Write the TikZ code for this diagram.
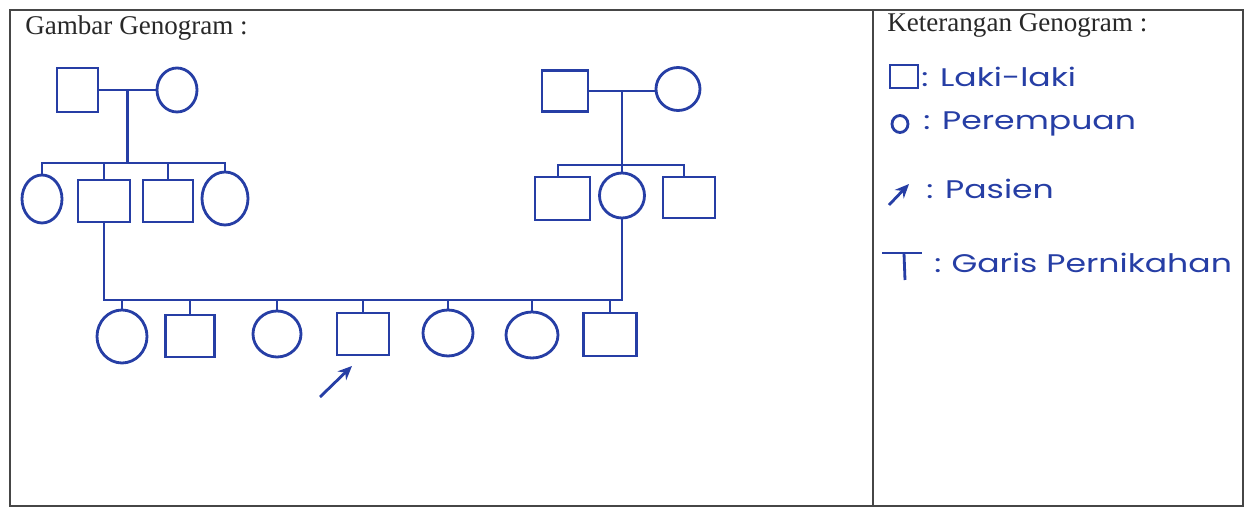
\documentclass[tikz,border=0pt]{standalone}
\usepackage{fontspec}
\setmainfont{Liberation Serif}
\newfontfamily\hand[FakeStretch=1.3]{Poppins}
\usetikzlibrary{shapes.geometric,arrows.meta,calc}
\definecolor{ink}{RGB}{38,62,165}
\definecolor{framegray}{RGB}{70,70,70}
\definecolor{titletext}{RGB}{40,40,40}
\begin{document}
\begin{tikzpicture}[x=0.02cm,y=-0.02cm,
  male/.style 2 args={draw=ink,line width=1.6pt,rectangle,inner sep=0pt,minimum width=#1*0.02cm,minimum height=#2*0.02cm},
  female/.style 2 args={draw=ink,line width=1.6pt,ellipse,inner sep=0pt,minimum width=#1*0.02cm,minimum height=#2*0.02cm},
  link/.style={draw=ink,line width=1.6pt},
  pointer/.style={draw=ink,line width=1.6pt,-{Stealth[length=8pt,width=7pt]}},
  boxline/.style={draw=framegray,line width=1.1pt},
  titlelabel/.style={anchor=base west,inner sep=0pt,text=titletext,font=\fontsize{15.4}{18}\selectfont},
  legtext/.style={anchor=west,inner sep=0pt,text=ink,font=\hand\fontsize{14.5}{17}\selectfont}]
\useasboundingbox (0,0) rectangle (1249,513);
\fill[white] (0,0) rectangle (1249,513);
% frame
\draw[boxline] (10,10) rectangle (1243,506);
\draw[boxline] (873,10) -- (873,506);
% titles
\node[titlelabel] (t1) at (25,35) {Gambar Genogram :};
\node[titlelabel] (t2) at (887,32) {Keterangan Genogram :};

% ---- left grandparents
\node[male={41}{44}] (gf1) at (77.5,90) {};
\node[female={40}{44}] (gm1) at (177,90) {};
\draw[link] (gf1.east) -- (gm1.west);
\coordinate (m1) at ($(gf1.east)!0.5!(gm1.west)$);
\coordinate (s1) at (0,163);
\node[female={40}{48}] (a1) at (42,199) {};
\node[male={52}{42}] (a2) at (104,201) {};
\node[male={50}{42}] (a3) at (168,201) {};
\node[female={46}{53}] (a4) at (225,198.5) {};
\draw[link] (m1) -- (m1 |- s1);
\draw[link] (a1.north) -- (a1.north |- s1) -- (a4.north |- s1) -- (a4.north);
\draw[link] (a2.north) -- (a2.north |- s1);
\draw[link] (a3.north) -- (a3.north |- s1);

% ---- right grandparents
\node[male={46}{41}] (gf2) at (565,91) {};
\node[female={44}{43}] (gm2) at (678,89) {};
\draw[link] (gf2.east) -- (gm2.west |- gf2.east);
\coordinate (m2) at ($(gf2.east)!0.5!(gm2.west |- gf2.east)$);
\coordinate (s2) at (0,165);
\node[male={55}{43}] (b1) at (562.5,198.5) {};
\node[female={45}{45}] (b2) at (m2 |- 0,195.5) {};
\node[male={52}{41}] (b3) at (689,197.5) {};
\draw[link] (m2) -- (b2.north);
\draw[link] ([xshift=-4.5*0.02cm]b1.north) -- ([xshift=-4.5*0.02cm]b1.north |- s2) -- ([xshift=-5*0.02cm]b3.north |- s2) -- ([xshift=-5*0.02cm]b3.north);

% ---- children line
\coordinate (h) at (0,300);
\draw[link] (a2.south) -- (a2.south |- h) -- (b2.south |- h) -- (b2.south);
\node[female={50}{53}] (c1) at (122,336.5) {};
\node[male={49}{42}] (c2) at (190,336) {};
\node[female={48}{46}] (c3) at (277,334) {};
\node[male={52}{42}] (c4) at (363,334) {};
\node[female={50}{46}] (c5) at (448,333) {};
\node[female={52}{46}] (c6) at (532,335) {};
\node[male={53}{43}] (c7) at (610,334.5) {};
\foreach \c in {c1,c2,c3,c4,c5,c6,c7}{
  \draw[link] (\c.north) -- (\c.north |- h);
}
% patient arrow
\coordinate (ptail) at (320,397);
\coordinate (phead) at (352,366);
\draw[pointer] (ptail) -- (phead);

% ---- legend
\node[male={28}{23}] (lm) at (904,76.5) {};
\node[legtext] (lmt) at (921,77) {: Laki-laki};
\node[female={16}{17}] (lf) at (900,124) {};
\node[legtext] (lft) at (923,124) {: Perempuan};
\coordinate (la1) at (889,205);
\coordinate (la2) at (909,184);
\draw[pointer] (la1) -- (la2);
\node[legtext] (lat) at (926,189) {: Pasien};
\coordinate (lt1) at (882,253);
\coordinate (lt2) at (922,253);
\coordinate (lt3) at (904,253);
\coordinate (lt4) at (905,280);
\draw[link] (lt1) -- (lt2);
\draw[link] (lt3) -- (lt4);
\node[legtext] (ltt) at (934,263) {:\hspace{0.4em}Garis Pernikahan};
\end{tikzpicture}
\end{document}
